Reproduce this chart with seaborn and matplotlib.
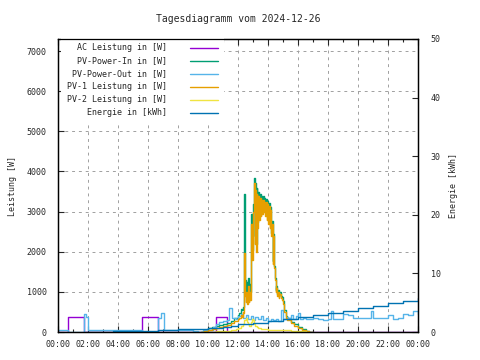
import pandas as pd
import seaborn as sns
import matplotlib.pyplot as plt
import matplotlib.dates as mdates

tag = '2024-12-26'

# AC Leistung [W] (nur sichtbar wo nichts darueber liegt)
ac_zeit = ['00:00', '00:40', '01:45', '05:35', '06:40', '10:30', '11:15', '24:00']
ac_wert = [0, 380, 0, 380, 0, 380, 0, 0]

# PV-1 und PV-Power-In tagsueber [W]
pv_zeit = ['09:30', '09:45', '10:00', '10:15', '10:30', '10:45', '11:00', '11:15',
           '11:30', '11:45', '12:00', '12:05', '12:10', '12:15',
           '12:18', '12:21', '12:24', '12:27', '12:30', '12:33', '12:36', '12:39',
           '12:42', '12:45', '12:48', '12:51', '12:54', '12:57', '13:00', '13:03',
           '13:06', '13:09', '13:12', '13:15', '13:18', '13:21', '13:24', '13:27',
           '13:30', '13:33', '13:36', '13:39', '13:42', '13:45', '13:48', '13:51',
           '13:54', '13:57', '14:00', '14:03', '14:06', '14:09', '14:12', '14:15',
           '14:18', '14:21', '14:24', '14:27', '14:30', '14:33', '14:36', '14:39',
           '14:42',
           '14:45', '14:50', '14:55', '15:00', '15:05', '15:10', '15:15', '15:30',
           '15:45', '16:00', '16:15', '16:30', '16:45', '17:00']
pv1_wert = [0, 20, 40, 70, 90, 120, 150, 180,
            220, 280, 320, 350, 420, 380,
            500, 480, 1980, 900, 750, 1000, 700, 1150,
            750, 1000, 800, 1200, 2700, 1800, 3000, 3700,
            2200, 3550, 2000, 3450, 2600, 3400, 2800, 3350,
            2900, 3300, 2950, 3300, 3000, 3250, 2900, 3250,
            2800, 3200, 2700, 3150, 2600, 3050, 2400, 2700,
            1700, 2400, 1600, 1300, 1000, 1100, 900, 1000,
            850,
            950, 850, 800, 700, 500, 350, 300, 220,
            150, 100, 60, 20, 0, 0]
pv_in_wert = [0, 60, 90, 130, 160, 170, 200, 230,
              280, 360, 420, 480, 580, 560,
              600, 620, 3450, 1300, 1000, 1250, 950, 1350,
              950, 1200, 1000, 1500, 2950, 2050, 3200, 3830,
              2400, 3700, 2200, 3600, 2750, 3500, 2900, 3450,
              3000, 3400, 3050, 3380, 3080, 3330, 2980, 3320,
              2880, 3270, 2780, 3220, 2680, 3120, 2460, 2760,
              1760, 2450, 1650, 1350, 1050, 1150, 950, 1050,
              900,
              1000, 900, 860, 760, 560, 400, 350, 260,
              190, 130, 80, 35, 0, 0]

# PV-2 Leistung [W]
pv2_zeit = ['09:30', '10:00', '10:30', '11:00', '11:30', '11:50', '12:00', '12:10',
            '12:20', '12:25', '12:30', '12:35', '12:40', '12:45', '12:50', '12:55',
            '13:00', '13:05', '13:10', '13:15', '13:20', '13:30', '14:00', '14:30',
            '15:00', '15:30', '16:00', '16:30', '16:45']
pv2_wert = [0, 10, 20, 30, 50, 80, 100, 150,
            200, 300, 350, 250, 200, 150, 250, 330,
            300, 200, 150, 120, 100, 80, 60, 50,
            45, 35, 25, 10, 0]

# PV-Power-Out [W]
out_zeit = ['00:00', '00:40', '01:45', '01:50', '02:00', '05:35', '06:40', '06:50',
            '07:05', '09:00', '09:20', '09:40', '10:00', '10:20', '10:30', '10:45',
            '11:00', '11:15', '11:25', '11:35', '11:50', '12:00', '12:10', '12:20',
            '12:30', '12:40', '12:50', '13:00', '13:10', '13:20', '13:30', '13:40',
            '13:50', '14:00', '14:10', '14:20', '14:30', '14:40', '14:50', '15:00',
            '15:10', '15:20', '15:30', '15:40', '15:50', '16:00', '16:10', '16:20',
            '16:30', '17:00', '17:20', '17:40', '18:00', '18:10', '18:20', '18:40',
            '19:00', '19:20', '19:40', '20:00', '20:30', '20:50', '21:00', '21:20',
            '21:40', '22:00', '22:20', '22:40', '23:00', '23:20', '23:40', '24:00']
out_wert = [60, 0, 450, 380, 60, 0, 350, 480,
            60, 30, 0, 50, 60, 120, 200, 250,
            280, 300, 600, 350, 320, 400, 450, 350,
            420, 330, 400, 300, 380, 330, 400, 300,
            350, 280, 330, 300, 330, 280, 560, 330,
            380, 350, 430, 330, 400, 480, 330, 350,
            320, 350, 330, 300, 320, 530, 330, 330,
            450, 430, 340, 360, 340, 520, 350, 340,
            360, 420, 330, 350, 460, 420, 520, 450]

# Energie [kWh]
en_zeit = ['01:52', '03:40', '06:40', '08:00', '09:00', '10:00', '11:00', '11:30',
           '12:00', '13:00', '14:00', '15:00', '16:00', '17:00', '18:00', '19:00',
           '20:00', '21:00', '22:00', '23:00', '24:00']
en_wert = [0.0, 0.1, 0.35, 0.45, 0.5, 0.6, 0.8, 1.0,
           1.3, 1.55, 1.85, 2.15, 2.5, 2.85, 3.25, 3.65,
           4.05, 4.5, 4.95, 5.35, 5.8]


def zeiten(liste):
    return pd.to_datetime(tag) + pd.to_timedelta([z + ':00' for z in liste])


farben = {'ac': '#9400d3', 'in': '#009e73', 'out': '#56b4e9',
          'pv1': '#e69f00', 'pv2': '#f0e442', 'en': '#0072b2'}

sns.set_style('white')
plt.rcParams['font.family'] = ['DejaVu Sans Mono']
fs = 6

fig = plt.figure(figsize=(4.8, 3.6), dpi=100)
ax = fig.add_axes([58 / 480, 1 - 332 / 360, 360 / 480, 293 / 360])
ax2 = ax.twinx()

kw = dict(estimator=None, drawstyle='steps-post', lw=1.0)
sns.lineplot(x=zeiten(ac_zeit), y=ac_wert, ax=ax, color=farben['ac'], label='AC Leistung in [W]', **kw)
sns.lineplot(x=zeiten(pv_zeit), y=pv_in_wert, ax=ax, color=farben['in'], label='PV-Power-In in [W]', **kw)
sns.lineplot(x=zeiten(out_zeit), y=out_wert, ax=ax, color=farben['out'], label='PV-Power-Out in [W]', **kw)
sns.lineplot(x=zeiten(pv_zeit), y=pv1_wert, ax=ax, color=farben['pv1'], label='PV-1 Leistung in [W]', **kw)
sns.lineplot(x=zeiten(pv2_zeit), y=pv2_wert, ax=ax, color=farben['pv2'], label='PV-2 Leistung in [W]', **kw)
sns.lineplot(x=zeiten(en_zeit), y=en_wert, ax=ax2, color=farben['en'], label='Energie in [kWh]', **kw)

ax.set_xlim(pd.Timestamp('2024-12-26 00:00'), pd.Timestamp('2024-12-27 00:00'))
ax.set_ylim(0, 7300)
ax2.set_ylim(0, 50)

ax.xaxis.set_major_locator(mdates.HourLocator(interval=2))
ax.xaxis.set_minor_locator(mdates.HourLocator(interval=1))
ax.xaxis.set_major_formatter(mdates.DateFormatter('%H:%M'))
ax.set_yticks(range(0, 8000, 1000))
ax2.set_yticks(range(0, 60, 10))

ax.grid(True, which='major', color='#a0a0a0', lw=0.7, linestyle=(0, (3, 4)))
ax2.grid(False)

ax.tick_params(axis='x', which='major', direction='in', length=4, width=0.8,
               labelsize=fs, pad=6, top=True, bottom=True)
ax.tick_params(axis='x', which='minor', direction='in', length=2.5, width=0.8,
               top=True, bottom=True)
ax.tick_params(axis='y', direction='in', length=4, width=0.8, labelsize=fs, pad=8,
               left=True, right=False)
ax2.tick_params(axis='y', direction='in', length=4, width=0.8, labelsize=fs, pad=9,
                right=True, left=False)

for sp in list(ax.spines.values()) + list(ax2.spines.values()):
    sp.set_color('black')
    sp.set_linewidth(0.9)
for sp in ax2.spines.values():
    sp.set_zorder(10)

ax.set_xlabel('')
ax.set_ylabel('Leistung [W]', fontsize=fs, labelpad=7)
ax2.set_ylabel('Energie [kWh]', fontsize=fs, labelpad=6)
ax.set_title('Tagesdiagramm vom 2024-12-26', fontsize=7, pad=12)

h1, l1 = ax.get_legend_handles_labels()
h2, l2 = ax2.get_legend_handles_labels()
if ax.get_legend():
    ax.get_legend().remove()
if ax2.get_legend():
    ax2.get_legend().remove()
leg = ax2.legend(h1 + h2, l1 + l2, loc='upper right', bbox_to_anchor=(0.473, 1.019),
                 frameon=True, markerfirst=False, fontsize=fs, handlelength=3.4,
                 handletextpad=2.8, labelspacing=0.48, borderpad=0.7,
                 fancybox=False, framealpha=1)
leg.get_frame().set_facecolor('white')
leg.get_frame().set_edgecolor('none')

fig.savefig('out.png', dpi=100)
